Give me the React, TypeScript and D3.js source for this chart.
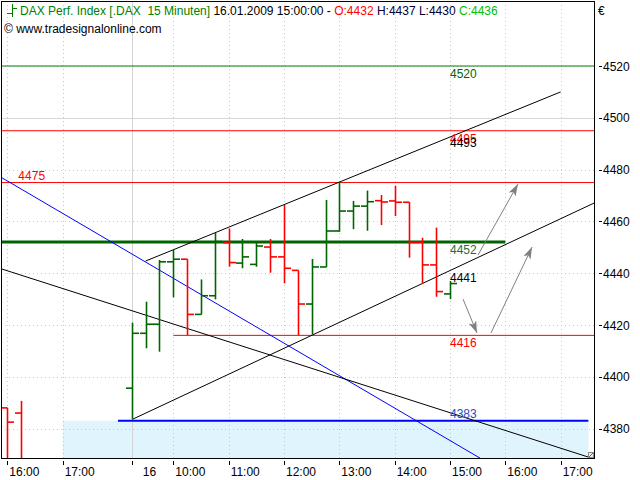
import React from "react";
import * as d3 from "d3";

// ---- Data (15-minute bars, x = bar slot index; 0 = 15.01. 16:00, 9 = 16.01. 09:15) ----
const barSlots = [0, 1, 9, 10, 11, 12, 13, 14, 15, 16, 17, 18, 19, 20, 21, 22, 23, 24, 25, 26, 27, 28, 29, 30, 31, 32];
const barOpen = [4388, 4386, 4395.6, 4416.8, 4420.3, 4444.4, 4445.4, 4424.1, 4431.3, 4451.8, 4443.9, 4443.4, 4450.1, 4446.3, 4441.1, 4428.1, 4442.4, 4456.3, 4464.0, 4465.9, 4468.0, 4467.9, 4467.4, 4451.9, 4443.2, 4432];
const barHigh = [4388, 4390.7, 4420.9, 4429.0, 4445.1, 4449.0, 4445.4, 4437.6, 4455.6, 4457.3, 4453.2, 4452.4, 4453.2, 4466.3, 4441.1, 4445.5, 4468.3, 4475.3, 4467.9, 4471.9, 4470.2, 4473.7, 4467.4, 4453.7, 4457.6, 4437];
const barLow = [4355, 4355, 4383.6, 4411.0, 4409.7, 4430.7, 4416.1, 4424.1, 4429.9, 4442.5, 4441.9, 4442.5, 4440.2, 4436.1, 4416.1, 4416.4, 4442.4, 4456.0, 4457.0, 4456.4, 4458.6, 4462.1, 4446.0, 4435.8, 4430.9, 4430];
const barClose = [4382.5, 4362, 4416.8, 4420.3, 4444.4, 4445.4, 4424.1, 4431.3, 4452.2, 4444.1, 4446.3, 4450.5, 4446.3, 4441.9, 4428.1, 4442.4, 4456.3, 4464.0, 4465.9, 4467.6, 4467.5, 4467.4, 4451.9, 4443.2, 4432.9, 4436];

// x-axis ticks
const xTickSlots = [0, 4, 9, 12, 16, 20, 24, 28, 32, 36, 40];
const xTickLabels = ["16:00", "17:00", "16", "10:00", "11:00", "12:00", "13:00", "14:00", "15:00", "16:00", "17:00"];
const daySeparatorSlot = 9;

// y-axis ticks
const yTicks = [4380, 4400, 4420, 4440, 4460, 4480, 4500, 4520];

// horizontal levels
const levelNames = ["res4520", "res4495", "res4475", "pivot4452", "sup4416", "sup4383"];
const levelValues = [4520, 4495, 4475, 4452, 4416, 4383];
const levelFrom = [-1, -1, -1, -1, 12, 8];
const levelTo = [43, 43, 43, 36, 43, 42];
const levelLabels = ["4520", "4495", "4475", "4452", "4416", "4383"];

// trend lines [slot, value] pairs
const trendNames = ["blueDown", "blackDown", "channelTop", "channelBottom"];
const trendStart: [number, number][] = [[-0.5, 4477.2], [-0.5, 4441.8], [10, 4444.7], [9.05, 4383.6]];
const trendEnd: [number, number][] = [[34.2, 4368.5], [42, 4369.0], [40, 4510], [42.5, 4467.3]];
const channelLabelValues = [4493, 4441];
const channelLabels = ["4493", "4441"];

// projection arrows
const arrowStart: [number, number][] = [[32.94, 4430], [34.96, 4416.9], [34.02, 4447]];
const arrowEnd: [number, number][] = [[33.95, 4416.9], [37.93, 4450.1], [36.91, 4474.4]];

// support zone
const zoneFromSlot = 4;
const zoneToSlot = 42;
const zoneTopValue = 4383;

const FONT = "'Liberation Sans', Arial, sans-serif";

export default function App() {
  const W = 640, H = 480;
  const left = 1, right = 594, top = 1, bottom = 458;
  const x = d3.scaleLinear().domain([0, 40]).range([7.3, 560.7]);
  const y = d3.scaleLinear().domain([4380, 4520]).range([428.6, 66]);

  const levelColor: Record<string, string> = {
    res4520: "#008000", res4495: "#ff0000", res4475: "#ff0000",
    pivot4452: "#006400", sup4416: "#ff0000", sup4383: "#0000ff",
  };
  const levelWidth: Record<string, number> = {
    res4520: 1, res4495: 1, res4475: 1, pivot4452: 3, sup4416: 1, sup4383: 2,
  };
  const labelColor: Record<string, string> = {
    res4520: "#006400", res4495: "#ff0000", res4475: "#ff0000",
    pivot4452: "#1e6e3c", sup4416: "#ff0000", sup4383: "#2050c8",
  };
  const trendColor: Record<string, string> = {
    blueDown: "#0000ff", blackDown: "#000", channelTop: "#000", channelBottom: "#000",
  };
  const labelSlot = 32;
  const line = d3.line<[number, number]>().x(d => x(d[0])).y(d => y(d[1]));

  const tick = 6.5;

  return (
    <svg width={W} height={H} style={{ display: "block", position: "absolute", left: 0, top: 0 }} fontFamily={FONT}>
      <defs>
        <clipPath id="plot">
          <rect x={left} y={top} width={right - left} height={bottom - top} />
        </clipPath>
        <marker id="arrow" viewBox="0 0 12 8" refX="12" refY="4" markerWidth="12" markerHeight="8"
          markerUnits="userSpaceOnUse" orient="auto">
          <path d="M0,0 L12,4 L0,8 L3,4 Z" fill="#808080" />
        </marker>
      </defs>
      <rect x={0} y={0} width={W} height={H} fill="#fff" />

      <g clipPath="url(#plot)">
        {/* support zone */}
        <rect x={x(zoneFromSlot)} y={y(zoneTopValue)} width={x(zoneToSlot) - x(zoneFromSlot)}
          height={bottom - y(zoneTopValue)} fill="#dff4fc" />
        {/* grid */}
        {yTicks.map(v => (
          <line key={"gy" + v} x1={left} x2={right} y1={Math.round(y(v)) + 0.5} y2={Math.round(y(v)) + 0.5}
            stroke={v === 4500 ? "#d8d8d8" : "#c8c8c8"} strokeDasharray={v === 4500 ? undefined : "1,3"} />
        ))}
        {xTickSlots.filter(s => s !== daySeparatorSlot).map(s => (
          <line key={"gx" + s} x1={Math.round(x(s)) + 0.5} x2={Math.round(x(s)) + 0.5} y1={top} y2={bottom}
            stroke="#c8c8c8" strokeDasharray="1,3" />
        ))}
        <line x1={Math.round(x(daySeparatorSlot)) + 0.5} x2={Math.round(x(daySeparatorSlot)) + 0.5} y1={top} y2={bottom}
          stroke="#d4d4d4" strokeWidth={1} />

        {/* horizontal levels */}
        {levelNames.map((n, i) => (
          <line key={n} x1={x(levelFrom[i])} x2={x(levelTo[i])} y1={y(levelValues[i])} y2={y(levelValues[i])}
            stroke={levelColor[n]} strokeWidth={levelWidth[n]} />
        ))}

        {/* trend lines */}
        {trendNames.map((n, i) => (
          <path key={n} d={line([trendStart[i], trendEnd[i]]) || ""} stroke={trendColor[n]} strokeWidth={1} fill="none" />
        ))}

        {/* bars */}
        {barSlots.map((s, i) => {
          const cx = Math.round(x(s)) + 0.5;
          const col = barClose[i] < barOpen[i] ? "#ff0000" : "#006400";
          return (
            <g key={"b" + s} stroke={col} strokeWidth={1.6}>
              <line x1={cx} x2={cx} y1={y(barHigh[i])} y2={y(barLow[i])} />
              <line x1={cx - tick} x2={cx} y1={y(barOpen[i])} y2={y(barOpen[i])} />
              <line x1={cx} x2={cx + tick} y1={y(barClose[i])} y2={y(barClose[i])} />
            </g>
          );
        })}

        {/* arrows */}
        {arrowStart.map((a, i) => (
          <line key={"ar" + i} x1={x(a[0])} y1={y(a[1])} x2={x(arrowEnd[i][0])} y2={y(arrowEnd[i][1])}
            stroke="#808080" strokeWidth={1} markerEnd="url(#arrow)" />
        ))}

        {/* level labels */}
        {levelNames.map((n, i) => {
          const above = n === "res4475" || n === "sup4383";
          const lx = n === "res4475" ? x(0.8) : x(labelSlot);
          return (
            <text key={"l" + n} x={lx} y={y(levelValues[i]) + (above ? -3 : 12)} fontSize={12} fill={labelColor[n]}>
              {levelLabels[i]}
            </text>
          );
        })}
        {channelLabels.map((t, i) => (
          <text key={"c" + t} x={x(labelSlot)} y={y(channelLabelValues[i]) + 11} fontSize={12} fill="#000">{t}</text>
        ))}

        {/* header */}
        <g stroke="#008000" strokeWidth={1}>
          <line x1={12.5} x2={12.5} y1={4} y2={17} />
          <line x1={7} x2={12.5} y1={13.5} y2={13.5} />
          <line x1={12.5} x2={17} y1={8.5} y2={8.5} />
        </g>
        <text x={20} y={15} fontSize={12} style={{ whiteSpace: "pre" }}>
          <tspan fill="#008000">{"DAX Perf. Index [.DAX  15 Minuten]"}</tspan>
          <tspan fill="#000">{" 16.01.2009 15:00:00 - "}</tspan>
          <tspan fill="#ff0000">O:4432</tspan>
          <tspan fill="#000033">{" H:4437 L:4430 "}</tspan>
          <tspan fill="#00c000">C:4436</tspan>
        </text>
        <text x={4} y={33} fontSize={12} fill="#000">© www.tradesignalonline.com</text>
      </g>

      {/* frame */}
      <rect x={left + 0.5} y={top + 0.5} width={right - left} height={bottom - top} fill="none" stroke="#000" />
      {/* resize grip */}
      <rect x={588.5} y={452.5} width={5} height={5} fill="#eee" stroke="#888" />
      <line x1={589} y1={457} x2={593} y2={453} stroke="#666" />

      {/* right axis */}
      {yTicks.map(v => (
        <g key={"yt" + v}>
          <line x1={599} x2={602} y1={Math.round(y(v)) + 0.5} y2={Math.round(y(v)) + 0.5} stroke="#000" />
          <text x={603} y={y(v) + 4.5} fontSize={12} fill="#000">{v}</text>
        </g>
      ))}
      <text x={598} y={15} fontSize={12} fill="#000">€</text>

      {/* bottom axis */}
      {xTickSlots.map((s, i) => (
        <g key={"xt" + s}>
          <line x1={Math.round(x(s)) + 0.5} x2={Math.round(x(s)) + 0.5} y1={461} y2={465} stroke="#000" />
          <text x={x(s) + (s === daySeparatorSlot ? 11 : 2)} y={476} fontSize={12} fill="#000">{xTickLabels[i]}</text>
        </g>
      ))}
    </svg>
  );
}
